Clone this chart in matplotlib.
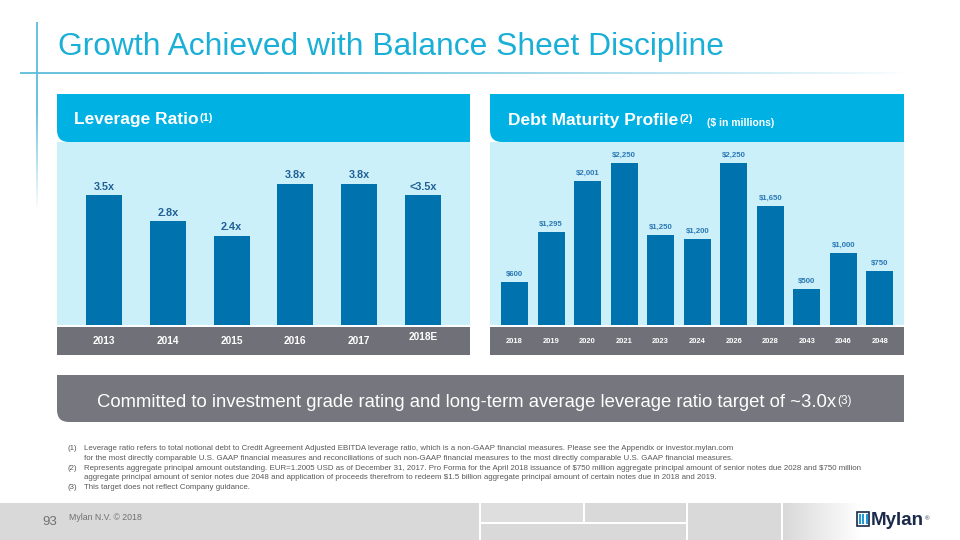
import matplotlib
matplotlib.use('Agg')
import matplotlib.pyplot as plt
import numpy as np
from matplotlib.patches import Rectangle, FancyBboxPatch
from matplotlib.collections import LineCollection

plt.rcParams['font.family'] = ['Liberation Sans', 'DejaVu Sans']

# data
lev_years = ['2013', '2014', '2015', '2016', '2017', '2018E']
lev_values = [3.5, 2.8, 2.4, 3.8, 3.8, 3.5]
lev_labels = ['3.5x', '2.8x', '2.4x', '3.8x', '3.8x', '<3.5x']

debt_years = ['2018', '2019', '2020', '2021', '2023', '2024', '2026', '2028', '2043', '2046', '2048']
debt_values = [600, 1295, 2001, 2250, 1250, 1200, 2250, 1650, 500, 1000, 750]
debt_labels = ['$600', '$1,295', '$2,001', '$2,250', '$1,250', '$1,200', '$2,250', '$1,650', '$500', '$1,000', '$750']

footnotes = [
    ('(1)', 'Leverage ratio refers to total notional debt to Credit Agreement Adjusted EBITDA leverage ratio, which is a non-GAAP financial measures. Please see the Appendix or investor.mylan.com'),
    ('', 'for the most directly comparable U.S. GAAP financial measures and reconciliations of such non-GAAP financial measures to the most directly comparable U.S. GAAP financial measures.'),
    ('(2)', 'Represents aggregate principal amount outstanding. EUR=1.2005 USD as of December 31, 2017. Pro Forma for the April 2018 issuance of $750 million aggregate principal amount of senior notes due 2028 and $750 million'),
    ('', 'aggregate principal amount of senior notes due 2048 and application of proceeds therefrom to redeem $1.5 billion aggregate principal amount of certain notes due in 2018 and 2019.'),
    ('(3)', 'This target does not reflect Company guidance.'),
]

# colours
CYAN = '#00b2e3'
LIGHT = '#ccf0f9'
BAR = '#0072ae'
GREYBAND = '#707078'
TITLE = '#1aafd6'

fig = plt.figure(figsize=(9.6, 5.4), dpi=100)
fig.patch.set_facecolor('white')

# background axis in pixel coordinates
bg = fig.add_axes([0, 0, 1, 1], zorder=0)
bg.set_xlim(0, 960)
bg.set_ylim(540, 0)
bg.axis('off')


def round_bl(x0, y0, x1, y1, r, color):
    # box with only the bottom-left corner rounded
    bg.add_patch(FancyBboxPatch((x0, y0), x1 - x0, y1 - y0,
                                boxstyle='round,pad=0,rounding_size=%d' % r, fc=color, ec='none'))
    bg.add_patch(Rectangle((x0, y0), x1 - x0, y1 - y0 - r, fc=color, ec='none'))
    bg.add_patch(Rectangle((x0 + r, y0), x1 - x0 - r, y1 - y0, fc=color, ec='none'))


# decorative fading lines
xs = np.linspace(20, 905, 300)
segs = [[(xs[i], 73), (xs[i + 1], 73)] for i in range(len(xs) - 1)]
alph = np.clip((905 - xs[:-1]) / (905 - 250), 0, 1) ** 0.8
cols = [(0.36, 0.74, 0.86, a) for a in alph]
bg.add_collection(LineCollection(segs, colors=cols, linewidths=1.3))
ys = np.linspace(22, 210, 150)
segs = [[(37, ys[i]), (37, ys[i + 1])] for i in range(len(ys) - 1)]
alph = np.clip((210 - ys[:-1]) / (210 - 110), 0, 1)
cols = [(0.36, 0.74, 0.86, a) for a in alph]
bg.add_collection(LineCollection(segs, colors=cols, linewidths=1.3))

bg.text(58, 47, 'Growth Achieved with Balance Sheet Discipline', fontsize=22.9,
        color=TITLE, va='center', ha='left')

# panel headers and bands
round_bl(57, 94, 470, 142, 12, CYAN)
round_bl(490, 94, 904, 142, 12, CYAN)
bg.add_patch(Rectangle((57, 327), 413, 28, fc=GREYBAND, ec='none'))
bg.add_patch(Rectangle((490, 327), 414, 28, fc=GREYBAND, ec='none'))

t1 = bg.text(74, 124, 'Leverage Ratio', fontsize=12.5, fontweight='bold', color='white',
             va='baseline', ha='left')
bg.annotate('(1)', xy=(1, 1), xycoords=t1, xytext=(1, -1), textcoords='offset points',
            fontsize=8, fontweight='bold', color='white', ha='left', va='top')
t2 = bg.text(508, 125, 'Debt Maturity Profile', fontsize=12.5, fontweight='bold', color='white',
             va='baseline', ha='left')
bg.annotate('(2)', xy=(1, 1), xycoords=t2, xytext=(1, -1), textcoords='offset points',
            fontsize=8, fontweight='bold', color='white', ha='left', va='top')
bg.annotate('($ in millions)', xy=(1, 0), xycoords=t2, xytext=(21, 0), textcoords='offset points',
            fontsize=7.5, fontweight='bold', color='white', ha='left', va='bottom', parse_math=False)

# committed band
round_bl(57, 375, 904, 422, 12, '#76767e')
t4 = bg.text(97, 407, 'Committed to investment grade rating and long-term average leverage ratio target of ~3.0x',
             fontsize=13.3, color='white', va='baseline', ha='left')
bg.annotate('(3)', xy=(1, 1), xycoords=t4, xytext=(0.5, -0.5), textcoords='offset points',
            fontsize=8.5, color='white', ha='left', va='top')

# footnotes
fy = 449
for num, txt in footnotes:
    if num:
        bg.text(68, fy, num, fontsize=5.7, color='#595959', va='center', ha='left')
    bg.text(84, fy, txt, fontsize=5.7, color='#595959', va='center', ha='left', parse_math=False)
    fy += 9.6

# footer
bg.add_patch(Rectangle((0, 503), 479, 37, fc='#d9d9d9', ec='none'))
bg.add_patch(Rectangle((481, 503), 102, 19, fc='#dedede', ec='none'))
bg.add_patch(Rectangle((585, 503), 101, 19, fc='#d9d9d9', ec='none'))
bg.add_patch(Rectangle((481, 524), 205, 16, fc='#d9d9d9', ec='none'))
bg.add_patch(Rectangle((688, 503), 93, 37, fc='#d9d9d9', ec='none'))
grad = np.linspace(0, 1, 100).reshape(1, -1)
bg.imshow(grad, extent=(783, 862, 540, 503), cmap=matplotlib.colors.LinearSegmentedColormap.from_list(
    'g', ['#d9d9d9', '#ffffff']), aspect='auto', zorder=1)
bg.set_xlim(0, 960)
bg.set_ylim(540, 0)
bg.text(42, 522, '93', fontsize=9.5, color='#707070', va='center', ha='left')
bg.text(69, 517, 'Mylan N.V. \u00a9 2018', fontsize=6.3, color='#707070', va='center', ha='left')

# logo
bg.add_patch(Rectangle((857, 512), 12, 13.5, fc='white', ec='#1b2a4a', lw=1.2, zorder=3))
for k in range(3):
    bg.add_patch(Rectangle((859 + k * 3.3, 514), 2, 9.5, fc='#1e9ad6', ec='none', zorder=4))
lg = bg.text(871, 525, 'Mylan', fontsize=13.5, fontweight='bold', color='#1b2a4a',
             va='baseline', ha='left')
bg.annotate('\u00ae', xy=(1, 1), xycoords=lg, xytext=(0.5, -3), textcoords='offset points',
            fontsize=4.5, color='#1b2a4a', ha='left', va='top')

# leverage chart
ax1 = fig.add_axes([57 / 960, (540 - 325) / 540, 413 / 960, 183 / 540], zorder=2)
ax1.set_facecolor(LIGHT)
x1 = np.arange(len(lev_years))
ax1.bar(x1, lev_values, width=0.5625, color=BAR)
ax1.set_xlim(-0.734, len(lev_years) - 1 + 0.734)
ax1.set_ylim(0, 4.93)
for xi, v, lab in zip(x1, lev_values, lev_labels):
    ax1.annotate(lab, (xi, v), xytext=(0, 2.5), textcoords='offset points', ha='center',
                 va='bottom', fontsize=7.8, fontweight='bold', color='#1f5f96')
for xi, yr in zip(x1, lev_years):
    yoff = -0.068 if yr.endswith('E') else -0.088
    ax1.text(xi, yoff, yr, transform=ax1.get_xaxis_transform(), ha='center', va='center',
             fontsize=7.3, fontweight='bold', color='white')
ax1.set_xticks([])
ax1.set_yticks([])
for s in ax1.spines.values():
    s.set_visible(False)

# debt maturity chart
ax2 = fig.add_axes([490 / 960, (540 - 325) / 540, 414 / 960, 183 / 540], zorder=2)
ax2.set_facecolor(LIGHT)
x2 = np.arange(len(debt_years))
ax2.bar(x2, debt_values, width=0.74, color=BAR)
ax2.set_xlim(-0.67, len(debt_years) - 1 + 0.66)
ax2.set_ylim(0, 2541)
for xi, v, lab in zip(x2, debt_values, debt_labels):
    ax2.annotate(lab, (xi, v), xytext=(0, 3), textcoords='offset points', ha='center',
                 va='bottom', fontsize=5.6, fontweight='bold', color='#2a78b4', parse_math=False)
for xi, yr in zip(x2, debt_years):
    ax2.text(xi, -0.09, yr, transform=ax2.get_xaxis_transform(), ha='center', va='center',
             fontsize=5.4, fontweight='bold', color='white')
ax2.set_xticks([])
ax2.set_yticks([])
for s in ax2.spines.values():
    s.set_visible(False)

fig.savefig('out.png', dpi=100)
